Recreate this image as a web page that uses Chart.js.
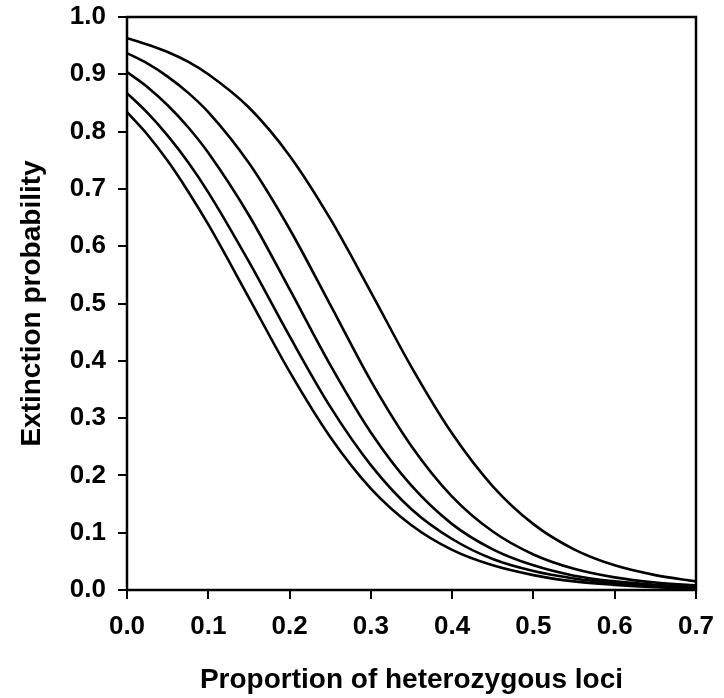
<!DOCTYPE html>
<html lang="en">

<head>
    <meta charset="UTF-8">
    <title>Extinction probability</title>
    <style>
        html, body {
            margin: 0;
            padding: 0;
            background: white;
        }

        canvas {
            display: block;
        }
    </style>
</head>

<body>
    <canvas id="chart" width="724" height="698"></canvas>

    <script src="https://cdn.jsdelivr.net/npm/chart.js@4"></script>
    <script>
        // proportion of heterozygous loci (x)
        const heterozygosity = [0, 0.025, 0.05, 0.075, 0.10, 0.15, 0.20, 0.25, 0.30, 0.35, 0.40, 0.45, 0.50, 0.55, 0.60, 0.65, 0.70];

        // extinction probability, top curve to bottom curve
        const curve1 = [0.963, 0.952, 0.939, 0.922, 0.900, 0.842, 0.758, 0.648, 0.520, 0.389, 0.273, 0.181, 0.115, 0.071, 0.043, 0.026, 0.015];
        const curve2 = [0.937, 0.919, 0.896, 0.868, 0.834, 0.745, 0.630, 0.498, 0.365, 0.251, 0.163, 0.102, 0.062, 0.037, 0.022, 0.013, 0.008];
        const curve3 = [0.904, 0.878, 0.846, 0.808, 0.763, 0.654, 0.525, 0.393, 0.275, 0.182, 0.115, 0.071, 0.043, 0.025, 0.015, 0.009, 0.005];
        const curve4 = [0.867, 0.833, 0.793, 0.747, 0.694, 0.573, 0.443, 0.320, 0.218, 0.141, 0.089, 0.054, 0.033, 0.020, 0.012, 0.007, 0.004];
        const curve5 = [0.834, 0.795, 0.749, 0.696, 0.638, 0.510, 0.381, 0.267, 0.177, 0.113, 0.070, 0.043, 0.026, 0.015, 0.009, 0.005, 0.003];

        const xTicks = [0, 0.1, 0.2, 0.3, 0.4, 0.5, 0.6, 0.7];
        const yTicks = [0, 0.1, 0.2, 0.3, 0.4, 0.5, 0.6, 0.7, 0.8, 0.9, 1.0];

        const curves = [curve1, curve2, curve3, curve4, curve5];

        const datasets = curves.map(values => ({
            data: values.map((v, i) => ({ x: heterozygosity[i], y: v })),
            borderColor: '#000',
            borderWidth: 2.6,
            pointRadius: 0,
            fill: false,
            cubicInterpolationMode: 'monotone'
        }));

        // box round the plot area
        const frame = {
            id: 'frame',
            afterDatasetsDraw(chart) {
                const { ctx, chartArea: a } = chart;
                ctx.save();
                ctx.strokeStyle = '#000';
                ctx.lineWidth = 2.5;
                ctx.strokeRect(a.left, a.top, a.right - a.left, a.bottom - a.top);
                ctx.restore();
            }
        };

        const tickFont = { family: '"Liberation Sans", Arial, sans-serif', size: 26, weight: 'bold' };
        const titleFont = { family: '"Liberation Sans", Arial, sans-serif', size: 28, weight: 'bold' };

        new Chart(document.getElementById('chart'), {
            type: 'line',
            data: { datasets: datasets },
            plugins: [frame],
            options: {
                responsive: false,
                animation: false,
                layout: {
                    padding: { left: 0, right: 28, top: 17, bottom: 0 }
                },
                plugins: {
                    legend: { display: false },
                    tooltip: { enabled: false }
                },
                scales: {
                    x: {
                        type: 'linear',
                        min: 0,
                        max: 0.7,
                        afterFit: scale => {
                            scale.height = 108;
                            scale.paddingLeft = 0;
                            scale.paddingRight = 0;
                        },
                        afterBuildTicks: scale => {
                            scale.ticks = xTicks.map(v => ({ value: v }));
                        },
                        ticks: {
                            color: '#000',
                            font: tickFont,
                            padding: 12,
                            maxRotation: 0,
                            callback: v => v.toFixed(1)
                        },
                        grid: {
                            drawOnChartArea: false,
                            drawTicks: true,
                            tickLength: 9,
                            color: '#000',
                            lineWidth: 2
                        },
                        border: { display: false },
                        title: {
                            display: true,
                            text: 'Proportion of heterozygous loci',
                            color: '#000',
                            font: titleFont,
                            padding: { top: 0, bottom: 1 }
                        }
                    },
                    y: {
                        min: 0,
                        max: 1,
                        afterFit: scale => {
                            scale.width = 127;
                            scale.paddingTop = 0;
                            scale.paddingBottom = 0;
                        },
                        afterBuildTicks: scale => {
                            scale.ticks = yTicks.map(v => ({ value: v }));
                        },
                        ticks: {
                            color: '#000',
                            font: tickFont,
                            padding: 12,
                            callback: v => v.toFixed(1)
                        },
                        grid: {
                            drawOnChartArea: false,
                            drawTicks: true,
                            tickLength: 9,
                            color: '#000',
                            lineWidth: 2
                        },
                        border: { display: false },
                        title: {
                            display: true,
                            text: 'Extinction probability',
                            color: '#000',
                            font: titleFont,
                            padding: { top: 15, bottom: 0 }
                        }
                    }
                }
            }
        });
    </script>
</body>

</html>
